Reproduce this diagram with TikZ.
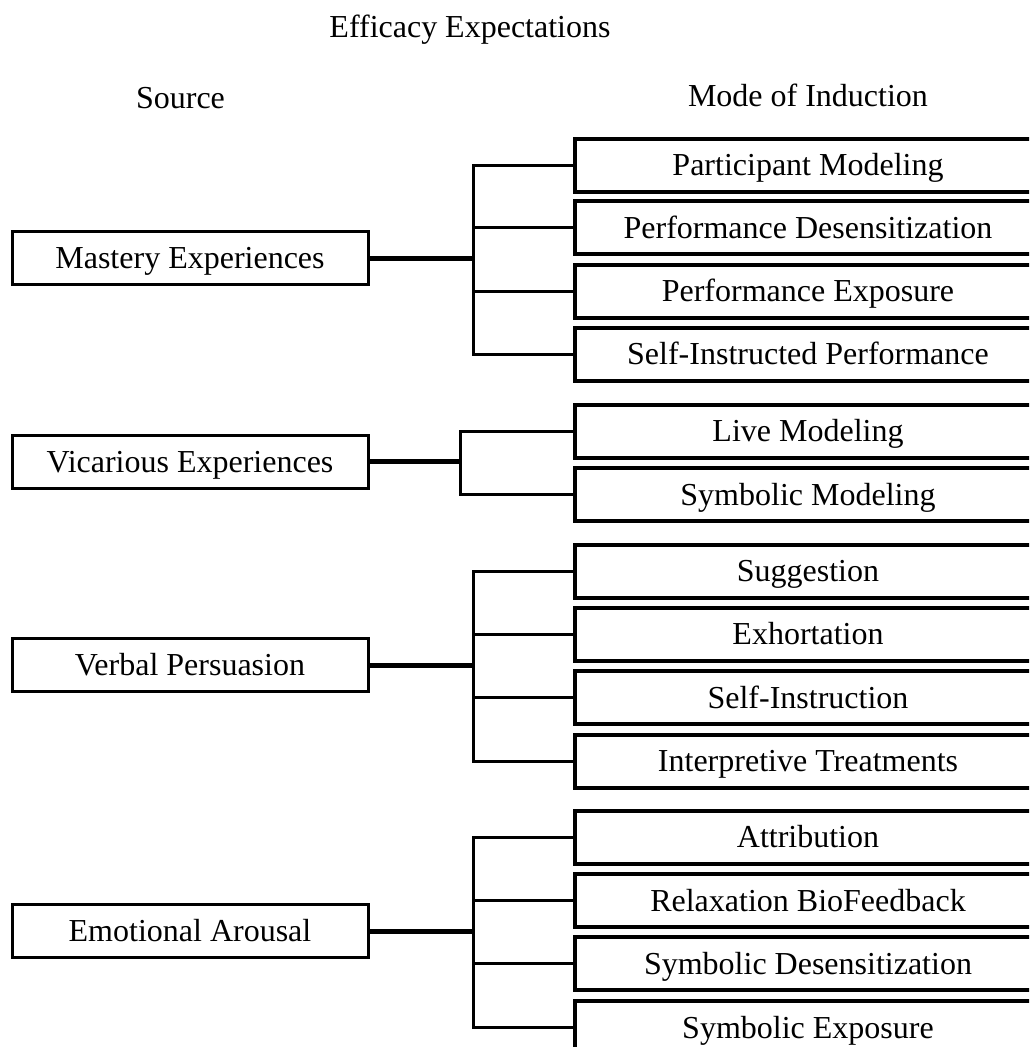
\documentclass[tikz,border=0pt]{standalone}
\usepackage{fontspec}
\setmainfont{Liberation Serif}
\tikzset{
	srcbox/.style={draw, line width=3pt, minimum width=356pt, minimum height=53pt, inner sep=0pt, text height=21pt, text depth=0pt},
	modebox/.style={draw, line width=4pt, minimum width=466pt, minimum height=53pt, inner sep=0pt, text height=21pt, text depth=0pt},
	branch/.style={line width=3pt, line cap=rect},
	trunk/.style={line width=5pt},
	heading/.style={anchor=base, inner sep=0pt}
}
\begin{document}
\begin{tikzpicture}[x=1pt, y=-1pt, font=\fontsize{32}{38}\selectfont]
		\useasboundingbox (0,0) rectangle (1029,1047);
		\clip (0,0) rectangle (1029,1047);
		
		\node[heading] (title) at (470,37) {Efficacy Expectations};
		\node[heading] (source) at (180.5,108) {Source};
		\node[heading] (mode) at (808,106) {Mode of Induction};
		
		% sources
		\node[srcbox] (mastery) at (190,258) {Mastery Experiences};
		\node[srcbox] (vicarious) at (190,461.5) {Vicarious Experiences};
		\node[srcbox] (verbal) at (190,665) {Verbal Persuasion};
		\node[srcbox] (emotional) at (190,931) {Emotional Arousal};
		
		% modes of induction
		\node[modebox] (m1) at (808,165) {Participant Modeling};
		\node[modebox] (m2) at (808,227.5) {Performance Desensitization};
		\node[modebox] (m3) at (808,291) {Performance Exposure};
		\node[modebox] (m4) at (808,354) {Self-Instructed Performance};
		
		\node[modebox] (v1) at (808,431) {Live Modeling};
		\node[modebox] (v2) at (808,494.5) {Symbolic Modeling};
		
		\node[modebox] (p1) at (808,571) {Suggestion};
		\node[modebox] (p2) at (808,634) {Exhortation};
		\node[modebox] (p3) at (808,697.5) {Self-Instruction};
		\node[modebox] (p4) at (808,761) {Interpretive Treatments};
		
		\node[modebox] (e1) at (808,837) {Attribution};
		\node[modebox] (e2) at (808,900.5) {Relaxation BioFeedback};
		\node[modebox] (e3) at (808,963.5) {Symbolic Desensitization};
		\node[modebox] (e4) at (808,1027.5) {Symbolic Exposure};
		
		% junctions
		\coordinate (mj) at (473,258);
		\coordinate (vj) at (460,461.5);
		\coordinate (pj) at (473,665);
		\coordinate (ej) at (473,931);
		
		\draw[trunk] (mastery.east) -- (mj);
		\draw[trunk] (vicarious.east) -- (vj);
		\draw[trunk] (verbal.east) -- (pj);
		\draw[trunk] (emotional.east) -- (ej);
		
		\draw[branch] (mj |- m1.west) -- (mj |- m4.west);
		\draw[branch] (vj |- v1.west) -- (vj |- v2.west);
		\draw[branch] (pj |- p1.west) -- (pj |- p4.west);
		\draw[branch] (ej |- e1.west) -- (ej |- e4.west);
		
		\foreach \i in {1,...,4} {
			\draw[branch] (mj |- m\i.west) -- (m\i.west);
			\draw[branch] (pj |- p\i.west) -- (p\i.west);
			\draw[branch] (ej |- e\i.west) -- (e\i.west);
		}
		\foreach \i in {1,2}
			\draw[branch] (vj |- v\i.west) -- (v\i.west);
	\end{tikzpicture}
\end{document}
